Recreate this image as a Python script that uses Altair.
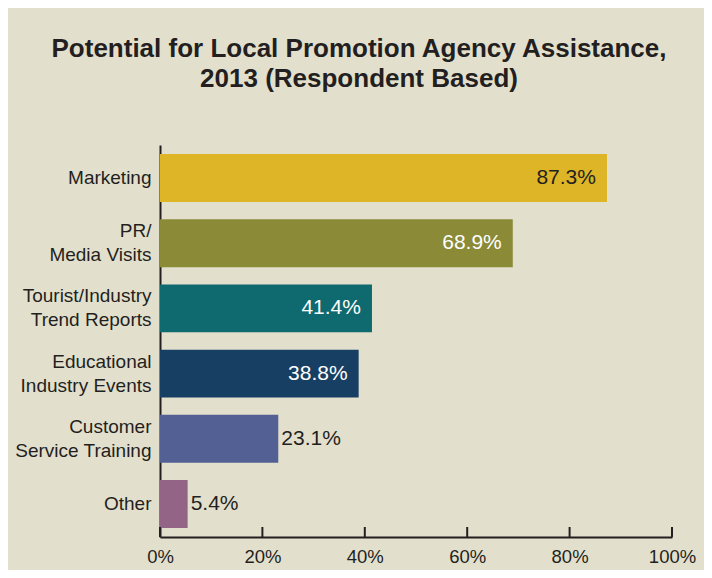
import altair as alt
import pandas as pd

categories = [
    "Marketing",
    "PR/\nMedia Visits",
    "Tourist/Industry\u2002\nTrend Reports",
    "Educational\u2002\nIndustry Events",
    "Customer\u2002\nService Training",
    "Other",
]
values = [87.3, 68.9, 41.4, 38.8, 23.1, 5.4]
x_ticks = [0, 20, 40, 60, 80, 100]

palette = ["#DEB526", "#8A8A37", "#0E6A6E", "#173F63", "#526094", "#936485"]
DARK = "#231F20"
FONT = "Liberation Sans"

df = pd.DataFrame({"category": categories, "value": values})
ticks_df = pd.DataFrame({"t": x_ticks})

H = 392
W = 512

x_enc = alt.X(
    "value:Q",
    scale=alt.Scale(domain=[0, 100], nice=False),
    axis=alt.Axis(
        values=x_ticks,
        labelExpr="datum.value + '%'",
        ticks=False,
        grid=False,
        domainColor=DARK,
        domainWidth=2,
        labelFontSize=18.5,
        labelColor=DARK,
        labelFont=FONT,
        labelPadding=10,
        labelFlush=False,
    ),
    title=None,
)
y_enc = alt.Y(
    "category:N",
    sort=categories,
    scale=alt.Scale(paddingInner=0.265, paddingOuter=0.138),
    axis=alt.Axis(
        labelExpr="split(datum.label, '\\n')",
        labelOffset={"condition": {"test": "indexof(datum.label, '\\n') >= 0", "value": -12}, "value": 0},
        ticks=False,
        grid=False,
        domainColor=DARK,
        domainWidth=2,
        labelFontSize=19,
        labelColor=DARK,
        labelFont=FONT,
        labelPadding=9,
        labelLineHeight=24,
        labelLimit=300,
    ),
    title=None,
)

base = alt.Chart(df)

bars = base.mark_bar().encode(
    x=x_enc,
    y=y_enc,
    color=alt.Color("category:N", scale=alt.Scale(domain=categories, range=palette), legend=None),
)

tick_marks = alt.Chart(ticks_df).mark_rule(color=DARK, strokeWidth=2).encode(
    x=alt.X("t:Q", title=None),
    y=alt.value(H),
    y2=alt.value(H - 10),
)

labels_in = base.transform_filter("datum.value > 30").transform_calculate(
    lab="format(datum.value, '.1f') + '%'"
).mark_text(align="right", baseline="middle", dx=-11, fontSize=21, font=FONT).encode(
    x=alt.X("value:Q"),
    y=alt.Y("category:N", sort=categories),
    text="lab:N",
    color=alt.condition("datum.category == 'Marketing'", alt.value(DARK), alt.value("#FFFFFF")),
)

labels_out = base.transform_filter("datum.value <= 30").transform_calculate(
    lab="format(datum.value, '.1f') + '%'"
).mark_text(align="left", baseline="middle", dx=3, fontSize=21, font=FONT, color=DARK).encode(
    x=alt.X("value:Q"),
    y=alt.Y("category:N", sort=categories),
    text="lab:N",
)

chart = alt.layer(bars, tick_marks, labels_in, labels_out).properties(
    width=W,
    height=H,
    title=alt.Title(
        ["Potential for Local Promotion Agency Assistance,", "2013 (Respondent Based)"],
        fontSize=26,
        font=FONT,
        fontWeight="bold",
        color=DARK,
        anchor="middle",
        dx=-57,
        offset=53,
        lineHeight=30,
    ),
    autosize=alt.AutoSizeParams(type="none"),
    padding={"left": 152, "top": 137, "right": 32, "bottom": 33},
    background="#E3DFCD",
).configure_view(stroke=None)

chart.save("out.html", embed_options={"renderer": "svg", "actions": False})
